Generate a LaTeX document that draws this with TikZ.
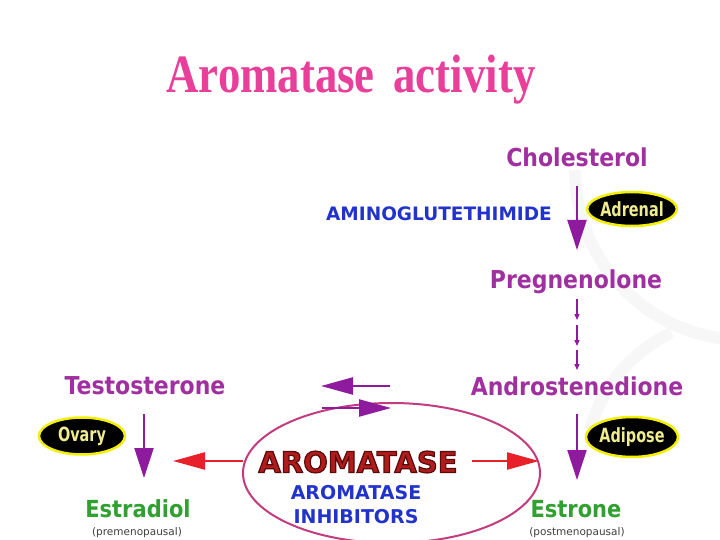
\documentclass[tikz,border=0pt]{standalone}
\usepackage{graphicx}
\usepackage{fontspec}
\setmainfont{Liberation Serif}
\newfontfamily\lblfont{DejaVu Sans}
\newcommand\tallx[1]{\scalebox{1}[1.12]{#1}}
\newcommand\titlex[1]{\scalebox{0.83}[1]{#1}}
\newcommand\orgx[1]{\scalebox{0.85}[1.15]{#1}}
\usetikzlibrary{arrows.meta,shapes.geometric}
\definecolor{ttl}{HTML}{E8409A}
\definecolor{purp}{HTML}{A0309F}
\definecolor{arrp}{HTML}{8E1A9E}
\definecolor{grn}{HTML}{30A030}
\definecolor{blu}{HTML}{2233CC}
\definecolor{dred}{HTML}{B01C1C}
\definecolor{rarr}{HTML}{E8202A}
\definecolor{ring}{HTML}{C23C7E}
\definecolor{yel}{HTML}{F2F000}
\definecolor{ytx}{HTML}{F0EC90}
\newcommand\outlinetext[1]{\special{pdf:literal 2 Tr 1.2 w 0.35 0.04 0.04 RG}#1\special{pdf:literal 0 Tr}}
\tikzset{
  compound/.style={text=purp,font=\lblfont\bfseries\fontsize{22}{24}\selectfont,inner sep=0pt},
  product/.style={text=grn,font=\lblfont\bfseries\fontsize{21}{24}\selectfont,inner sep=0pt},
  note/.style={text=black!75,font=\lblfont\fontsize{10.5}{11}\selectfont,inner sep=0pt},
  organ/.style={ellipse,fill=black,draw=yel,line width=2.5pt,text=ytx,inner sep=0pt,font=\lblfont\bfseries\fontsize{17}{18}\selectfont},
  parrow/.style={draw=arrp,line width=2.2pt,-{Triangle[length=30pt,width=19pt]}},
  sarrow/.style={draw=arrp,line width=1.3pt,-{Triangle[length=6pt,width=5pt]}},
  harrow/.style={draw=arrp,line width=2.4pt,-{Triangle[length=32pt,width=17pt]}},
  rarrow/.style={draw=rarr,line width=2.4pt,-{Triangle[length=32pt,width=17pt]}},
}
\begin{document}
\begin{tikzpicture}[x=1pt,y=-1pt]
\useasboundingbox (0,0) rectangle (720,540);
\fill[white] (0,0) rectangle (720,540);
% faint watermark
\draw[black!3,line width=12pt] (575,170) arc[start angle=180,end angle=95,radius=170];
\draw[black!3,line width=12pt] (590,430) arc[start angle=195,end angle=245,radius=150];
% title
\node[text=ttl,font=\bfseries\fontsize{54}{58}\selectfont,inner sep=0pt] (title) at (351,80) {\titlex{Aromatase\, activity}};
% compounds
\node[compound] (chol) at (577,157) {\tallx{Cholesterol}};
\node[compound] (preg) at (576,282) {\tallx{Pregnenolone}};
\node[compound] (andro) at (577,386) {\tallx{Androstenedione}};
\node[compound] (testo) at (145,386) {\tallx{Testosterone}};
\node[product] (estradiol) at (138,509) {\tallx{Estradiol}};
\node[product] (estrone) at (576,509) {\tallx{Estrone}};
\node[note] (pre) at (137,533) {(premenopausal)};
\node[note] (post) at (577,533) {(postmenopausal)};
\node[text=blu,font=\lblfont\bfseries\fontsize{18.5}{20}\selectfont,inner sep=0pt] (amino) at (439,214) {AMINOGLUTETHIMIDE};
% organs
\node[organ,minimum width=80pt,minimum height=34pt] (adrenal) at (632,209) {\orgx{Adrenal}};
\node[organ,minimum width=86pt,minimum height=37pt] (ovary) at (82,436) {\orgx{Ovary}};
\node[organ,minimum width=78pt,minimum height=40pt] (adipose) at (632,437) {\orgx{Adipose}};
% aromatase ellipse
\draw[ring,line width=2pt] (391.5,473) ellipse[x radius=148.5,y radius=70];
\node[text=dred,font=\lblfont\bfseries\fontsize{29}{30}\selectfont,inner sep=0pt] (arom) at (358,462) {\outlinetext{AROMATASE}};
\node[text=blu,font=\lblfont\bfseries\fontsize{19}{24}\selectfont,align=center,inner sep=0pt] (inhib) at (356,505) {AROMATASE\\INHIBITORS};
% vertical arrows
\coordinate (c1) at (577,186);
\coordinate (c2) at (577,250);
\draw[parrow] (c1) -- (c2);
\coordinate (d0) at (577,299);
\coordinate (d1) at (577,320);
\coordinate (d2) at (577,325);
\coordinate (d3) at (577,346);
\coordinate (d4) at (577,350);
\coordinate (d5) at (577,370);
\draw[sarrow] (d0) -- (d1);
\draw[sarrow] (d2) -- (d3);
\draw[sarrow] (d4) -- (d5);
\coordinate (t1) at (144,414);
\coordinate (t2) at (144,478);
\draw[parrow] (t1) -- (t2);
\coordinate (a1) at (577,414);
\coordinate (a2) at (577,480);
\draw[parrow] (a1) -- (a2);
% horizontal arrows
\coordinate (h1) at (390,386);
\coordinate (h2) at (321,386);
\draw[harrow] (h1) -- (h2);
\coordinate (h3) at (322,408);
\coordinate (h4) at (391,408);
\draw[harrow] (h3) -- (h4);
\coordinate (r1) at (243,461);
\coordinate (r2) at (173,461);
\draw[rarrow] (r1) -- (r2);
\coordinate (r3) at (472,461);
\coordinate (r4) at (539,461);
\draw[rarrow] (r3) -- (r4);
\end{tikzpicture}
\end{document}
